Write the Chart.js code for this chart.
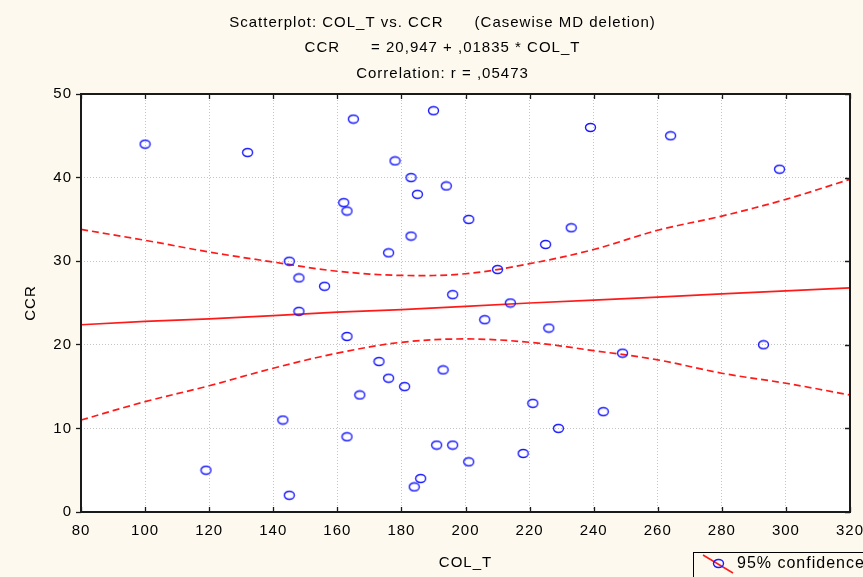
<!DOCTYPE html>
<html>
<head>
<meta charset="utf-8">
<script src="https://cdn.jsdelivr.net/npm/chart.js@4/dist/chart.umd.min.js"></script>
<style>
  body { margin: 0; background: #fdf9ee; }
  #wrap { width: 863px; height: 577px; position: relative; }
</style>
</head>
<body>
<div id="wrap"><canvas id="scatterChart"></canvas></div>
<script>
const colT = [100, 132, 165, 190, 239, 264, 298, 162, 163, 178, 183, 185,
  194, 201, 183, 176, 225, 233, 210, 196, 214, 145, 148, 156, 148, 163,
  173, 167, 143, 163, 119, 145, 176, 181, 193, 206, 226, 249, 221, 243,
  229, 191, 196, 218, 201, 186, 184, 293];
const ccr = [44, 43, 47, 48, 46, 45, 41, 37, 36, 42, 40, 38,
  39, 35, 33, 31, 32, 34, 29, 26, 25, 30, 28, 27, 24, 21,
  18, 14, 11, 9, 5, 2, 16, 15, 17, 23, 22, 19, 13, 12,
  10, 8, 8, 7, 6, 4, 3, 20];

// Fitted line and 95% confidence band, read at each x tick
const fitX = [80, 100, 120, 140, 160, 180, 200, 220, 240, 260, 280, 300, 320];
const fitLine = [22.4, 22.8, 23.1, 23.5, 23.9, 24.2, 24.6, 25.0, 25.35, 25.7, 26.1, 26.45, 26.8];
const upper95 = [33.8, 32.5, 31.1, 29.9, 28.8, 28.3, 28.5, 29.7, 31.4, 33.7, 35.4, 37.4, 39.8];
const lower95 = [11.0, 13.2, 15.1, 17.2, 19.0, 20.3, 20.7, 20.3, 19.3, 18.2, 16.6, 15.4, 14.0];

const titleLines = [
  'Scatterplot: COL_T vs. CCR      (Casewise MD deletion)',
  'CCR      = 20,947 + ,01835 * COL_T',
  'Correlation: r = ,05473'
];
const legendLabel = '95% confidence';

const FONT = 'Arial, "Liberation Sans", sans-serif';
const RED = '#ff1a1a';
const BLUE = '#1a1aff';

// Small open ellipse used as the point marker
function makeMarker() {
  const c = document.createElement('canvas');
  c.width = 13;
  c.height = 11;
  const g = c.getContext('2d');
  g.strokeStyle = BLUE;
  g.lineWidth = 1.4;
  g.beginPath();
  g.ellipse(6.5, 5.5, 5, 4, 0, 0, Math.PI * 2);
  g.stroke();
  return c;
}
const marker = makeMarker();

function toXY(xs, ys) {
  return xs.map((x, i) => ({ x: x, y: ys[i] }));
}

// The original text is set a little loose
function spaceText(chart) {
  chart.ctx.letterSpacing = '1px';
}

// Backgrounds, frame, inner ticks and the legend box
const framePlugin = {
  id: 'frame',
  beforeUpdate: spaceText,
  beforeLayout: spaceText,
  beforeDraw(chart) {
    spaceText(chart);
    const ctx = chart.ctx;
    const a = chart.chartArea;
    ctx.save();
    ctx.fillStyle = '#fdf9ee';
    ctx.fillRect(0, 0, chart.width, chart.height);
    ctx.fillStyle = '#ffffff';
    ctx.fillRect(a.left, a.top, a.right - a.left, a.bottom - a.top);
    ctx.restore();
  },
  afterDraw(chart) {
    const ctx = chart.ctx;
    const a = chart.chartArea;
    const xs = chart.scales.x;
    const ys = chart.scales.y;
    ctx.save();
    ctx.strokeStyle = '#1a1a1a';
    ctx.lineWidth = 1.3;
    ctx.beginPath();
    xs.ticks.forEach(t => {
      const px = Math.round(xs.getPixelForValue(t.value)) + 0.5;
      ctx.moveTo(px, a.top);
      ctx.lineTo(px, a.top + 5);
      ctx.moveTo(px, a.bottom);
      ctx.lineTo(px, a.bottom - 5);
    });
    ys.ticks.forEach(t => {
      const py = Math.round(ys.getPixelForValue(t.value)) + 0.5;
      ctx.moveTo(a.right, py);
      ctx.lineTo(a.right - 5, py);
    });
    ctx.stroke();
    ctx.lineWidth = 2;
    ctx.strokeRect(a.left, a.top, a.right - a.left, a.bottom - a.top);

    // legend
    const lx = 693, ly = 552;
    ctx.fillStyle = '#fdf9ee';
    ctx.fillRect(lx, ly, 200, 40);
    ctx.lineWidth = 1;
    ctx.strokeStyle = '#000';
    ctx.strokeRect(lx + 0.5, ly + 0.5, 200, 40);
    ctx.strokeStyle = RED;
    ctx.lineWidth = 1.5;
    ctx.beginPath();
    ctx.moveTo(703, 555);
    ctx.lineTo(733, 573);
    ctx.stroke();
    ctx.drawImage(marker, 712, 558);
    ctx.fillStyle = '#000';
    ctx.font = '16px ' + FONT;
    ctx.textBaseline = 'middle';
    ctx.fillText(legendLabel, 737, 564);
    ctx.restore();
  }
};

const ctx = document.getElementById('scatterChart').getContext('2d');
new Chart(ctx, {
  type: 'scatter',
  data: {
    datasets: [
      {
        label: 'CCR',
        data: toXY(colT, ccr),
        pointStyle: marker,
        pointRadius: 5,
        pointHoverRadius: 5,
        order: 0
      },
      {
        label: 'Fit',
        data: toXY(fitX, fitLine),
        showLine: true,
        borderColor: RED,
        borderWidth: 1.7,
        pointRadius: 0,
        fill: false,
        order: 1
      },
      {
        label: 'Upper 95%',
        data: toXY(fitX, upper95),
        showLine: true,
        borderColor: RED,
        borderWidth: 1.7,
        borderDash: [7, 4],
        tension: 0.35,
        pointRadius: 0,
        fill: false,
        order: 1
      },
      {
        label: 'Lower 95%',
        data: toXY(fitX, lower95),
        showLine: true,
        borderColor: RED,
        borderWidth: 1.7,
        borderDash: [7, 4],
        tension: 0.35,
        pointRadius: 0,
        fill: false,
        order: 1
      }
    ]
  },
  options: {
    responsive: true,
    maintainAspectRatio: false,
    animation: false,
    events: [],
    layout: { padding: { left: 22, right: 0, top: 0, bottom: 0 } },
    plugins: {
      legend: { display: false },
      tooltip: { enabled: false },
      title: {
        display: true,
        text: titleLines,
        color: '#000',
        font: { family: FONT, size: 15, weight: 'normal', lineHeight: 1.7 },
        padding: { top: 10, bottom: 7.5 }
      }
    },
    scales: {
      x: {
        type: 'linear',
        min: 80,
        max: 320,
        ticks: {
          stepSize: 20,
          color: '#000',
          font: { family: FONT, size: 15 },
          padding: 10,
          maxRotation: 0
        },
        grid: { color: '#c4c4c4', drawTicks: false },
        border: { display: false, dash: [1, 2] },
        title: {
          display: true,
          text: 'COL_T',
          color: '#000',
          font: { family: FONT, size: 15 },
          padding: { top: 0, bottom: 5 }
        },
        afterFit(scale) {
          scale.height = 65;
          scale.paddingLeft = 0;
          scale.paddingRight = 13;
        }
      },
      y: {
        type: 'linear',
        min: 0,
        max: 50,
        ticks: {
          stepSize: 10,
          color: '#000',
          font: { family: FONT, size: 15 },
          padding: 4
        },
        grid: { color: '#c4c4c4', tickColor: '#1a1a1a', tickLength: 5, tickWidth: 1.3 },
        border: { display: false, dash: [1, 2] },
        title: {
          display: true,
          text: 'CCR',
          color: '#000',
          font: { family: FONT, size: 15 },
          padding: { top: 0, bottom: 0 }
        },
        afterFit(scale) {
          scale.width = 59;
          scale.paddingTop = 0;
          scale.paddingBottom = 0;
        }
      }
    }
  },
  plugins: [framePlugin]
});
</script>
</body>
</html>
